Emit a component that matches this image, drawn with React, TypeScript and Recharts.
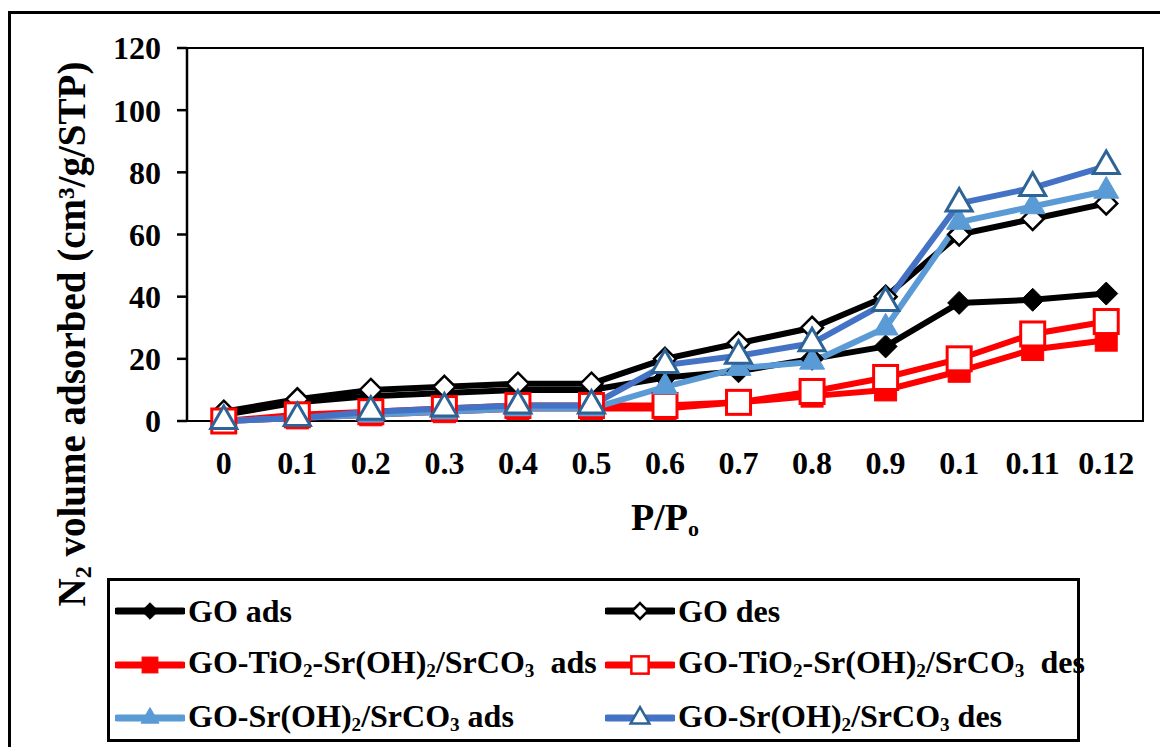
import { LineChart, Line, XAxis, YAxis, ReferenceArea } from 'recharts';

const pLabels = ['0', '0.1', '0.2', '0.3', '0.4', '0.5', '0.6', '0.7', '0.8', '0.9', '0.1', '0.11', '0.12'];
const goAds = [2, 6, 8, 9, 10, 10, 14, 16, 20, 24, 38, 39, 41];
const goDes = [3, 7, 10, 11, 12, 12, 20, 25, 30, 40, 60, 65, 70];
const tiAds = [0, 1, 2, 3, 4, 4, 4, 6, 8, 10, 16, 23, 26];
const tiDes = [0, 2, 3, 4, 5, 5, 5, 6, 9.5, 14, 20, 28, 32];
const srAds = [0, 1, 2, 3, 4, 4, 11, 17, 19, 30, 64, 69, 74];
const srDes = [0, 1, 3, 4, 5, 5, 18, 21, 25, 38, 70, 75, 82];
const yTicks = [0, 20, 40, 60, 80, 100, 120];

// categories sit in the middle of each band, tick marks on the band edges
const centerTicks = pLabels.map((_, i) => i + 0.5);
const edgeTicks = [...pLabels.map((_, i) => i), pLabels.length];

const data = pLabels.map((label, i) => ({
  xc: i + 0.5,
  label,
  goAds: goAds[i],
  goDes: goDes[i],
  tiAds: tiAds[i],
  tiDes: tiDes[i],
  srAds: srAds[i],
  srDes: srDes[i],
}));

const FONT = "'Liberation Serif', 'Times New Roman', serif";

type Shape = 'diamond' | 'square' | 'triangle';

function marker(shape: Shape, cx: number, cy: number, size: number, fill: string, stroke: string, sw: number) {
  if (shape === 'diamond') {
    const r = size / 2;
    return <polygon points={`${cx},${cy - r} ${cx + r},${cy} ${cx},${cy + r} ${cx - r},${cy}`} fill={fill} stroke={stroke} strokeWidth={sw} />;
  }
  if (shape === 'square') {
    return <rect x={cx - size / 2} y={cy - size / 2} width={size} height={size} fill={fill} stroke={stroke} strokeWidth={sw} />;
  }
  const h = size / Math.sqrt(3);
  return (
    <polygon
      points={`${cx},${cy - h} ${cx + size / 2},${cy + h / 2} ${cx - size / 2},${cy + h / 2}`}
      fill={fill}
      stroke={stroke}
      strokeWidth={sw}
    />
  );
}

const series = [
  { key: 'goAds', name: ['GO ads'], line: '#000', shape: 'diamond' as Shape, fill: '#000', stroke: '#000', size: 23, sw: 1 },
  { key: 'goDes', name: ['GO des'], line: '#000', shape: 'diamond' as Shape, fill: '#fff', stroke: '#000', size: 22, sw: 2.5 },
  { key: 'tiAds', name: ['GO-TiO', '2', '-Sr(OH)', '2', '/SrCO', '3', '  ads'], line: '#ff0000', shape: 'square' as Shape, fill: '#ff0000', stroke: '#ff0000', size: 22, sw: 1 },
  { key: 'tiDes', name: ['GO-TiO', '2', '-Sr(OH)', '2', '/SrCO', '3', '  des'], line: '#ff0000', shape: 'square' as Shape, fill: '#fff', stroke: '#ff0000', size: 24, sw: 3 },
  { key: 'srAds', name: ['GO-Sr(OH)', '2', '/SrCO', '3', ' ads'], line: '#5b9bd5', shape: 'triangle' as Shape, fill: '#5b9bd5', stroke: '#5b9bd5', size: 25, sw: 1 },
  { key: 'srDes', name: ['GO-Sr(OH)', '2', '/SrCO', '3', ' des'], line: '#4472c4', shape: 'triangle' as Shape, fill: '#fff', stroke: '#2e6395', size: 26, sw: 3 },
];

function makeDot(s: (typeof series)[number]) {
  return (props: any) => {
    const { cx, cy, index } = props;
    return <g key={`${s.key}-${index}`}>{marker(s.shape, cx, cy, s.size, s.fill, s.stroke, s.sw)}</g>;
  };
}

function LegendName({ parts }: { parts: string[] }) {
  return (
    <span style={{ whiteSpace: 'pre' }}>
      {parts.map((p, k) =>
        k % 2 === 1 ? (
          <span key={k} style={{ fontSize: '60%', position: 'relative', top: 4 }}>{p}</span>
        ) : (
          <span key={k}>{p}</span>
        ),
      )}
    </span>
  );
}

function LegendBox() {
  return (
    <div
      style={{
        position: 'absolute',
        left: 99,
        top: 570,
        width: 973,
        height: 164,
        border: '3px solid #000',
        boxSizing: 'border-box',
        fontFamily: FONT,
        fontWeight: 'bold',
        fontSize: 32,
        background: '#fff',
      }}
    >
      {series.map((s, idx) => {
        const row = Math.floor(idx / 2);
        const col = idx % 2;
        return (
          <div
            key={s.key}
            style={{
              position: 'absolute',
              left: col === 0 ? 5 : 495,
              top: 10 + row * 53.5,
              height: 40,
              display: 'flex',
              alignItems: 'center',
              lineHeight: '40px',
            }}
          >
            <svg width={70} height={30} style={{ marginRight: 3 }}>
              <line x1={2} y1={15} x2={68} y2={15} stroke={s.line} strokeWidth={7} strokeLinecap="round" />
              {marker(s.shape, 35, 15, s.size * 0.72, s.fill, s.stroke, Math.min(s.sw, 2.5))}
            </svg>
            <LegendName parts={s.name} />
          </div>
        );
      })}
    </div>
  );
}

export default function App() {
  const tickStyle = { fill: '#000', fontSize: 32, fontWeight: 'bold', fontFamily: FONT };
  return (
    <div style={{ position: 'relative', width: 1152, height: 739, overflow: 'hidden', fontFamily: FONT, background: '#fff' }}>
      <div
        style={{
          position: 'absolute',
          left: 0,
          top: 3,
          width: 1170,
          height: 780,
          border: '3px solid #000',
          boxSizing: 'border-box',
        }}
      />
      <div style={{ position: 'absolute', left: 0, top: 0 }}>
        <LineChart width={1152} height={739} data={data} margin={{ top: 40, right: 17, bottom: 246, left: 99 }}>
          <XAxis
            xAxisId="edge"
            type="number"
            dataKey="xc"
            domain={[0, pLabels.length]}
            ticks={edgeTicks}
            tick={() => <g />}
            tickSize={10}
            height={0}
            axisLine={{ stroke: '#000', strokeWidth: 2.5 }}
            tickLine={{ stroke: '#000', strokeWidth: 2.5 }}
          />
          <XAxis
            xAxisId="cat"
            type="number"
            dataKey="xc"
            domain={[0, pLabels.length]}
            ticks={centerTicks}
            tickFormatter={(v: number) => pLabels[Math.floor(v)]}
            axisLine={false}
            tickLine={false}
            tickSize={0}
            tickMargin={30}
            height={80}
            interval={0}
            tick={tickStyle}
            label={{
              content: () => (
                <text x={657} y={522} textAnchor="middle" fontFamily={FONT} fontWeight="bold" fontSize={38} fill="#000">
                  P/P<tspan fontSize={22} dy={6}>o</tspan>
                </text>
              ),
            }}
          />
          <YAxis
            domain={[0, 120]}
            ticks={yTicks}
            width={80}
            tickSize={10}
            tickMargin={16}
            interval={0}
            tick={tickStyle}
            axisLine={{ stroke: '#000', strokeWidth: 2.5 }}
            tickLine={{ stroke: '#000', strokeWidth: 2.5 }}
            label={{
              content: () => (
                <text
                  x={0}
                  y={0}
                  transform="translate(77, 326) rotate(-90)"
                  textAnchor="middle"
                  fontFamily={FONT}
                  fontWeight="bold"
                  fontSize={39}
                  fill="#000"
                >
                  N<tspan fontSize={24} dy={6}>2</tspan>
                  <tspan dy={-6}> volume adsorbed (cm³/g/STP)</tspan>
                </text>
              ),
            }}
          />
          <ReferenceArea xAxisId="cat" x1={0} x2={pLabels.length} y1={0} y2={120} fill="none" stroke="#000" strokeWidth={2} ifOverflow="visible" />
          {series.map((s) => (
            <Line
              key={s.key}
              xAxisId="cat"
              dataKey={s.key}
              stroke={s.line}
              strokeWidth={6}
              dot={makeDot(s)}
              activeDot={false}
              isAnimationActive={false}
            />
          ))}
        </LineChart>
      </div>
      <LegendBox />
    </div>
  );
}
